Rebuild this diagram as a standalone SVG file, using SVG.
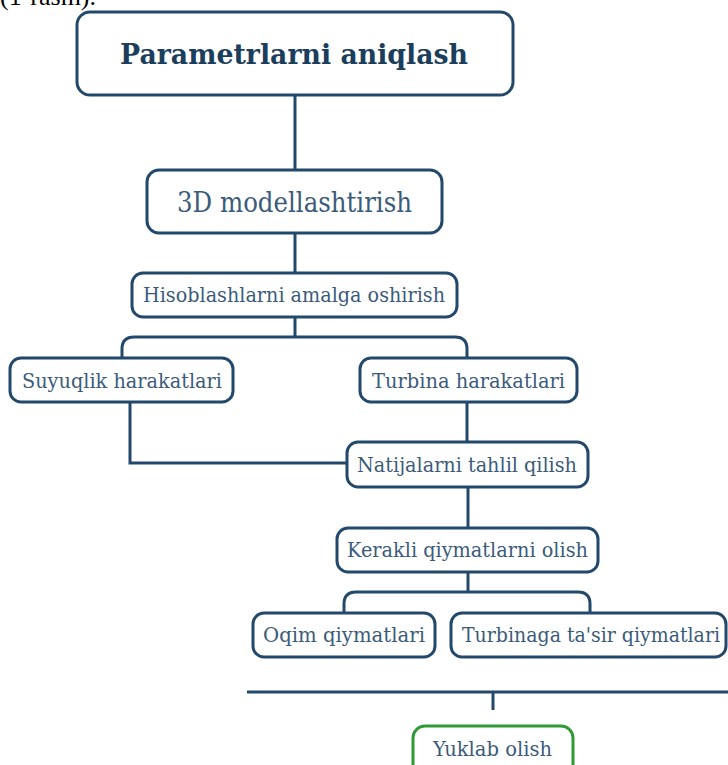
<svg xmlns="http://www.w3.org/2000/svg" width="728" height="765" viewBox="0 0 728 765">
<style>
.box{fill:#ffffff;stroke:#22496b;stroke-width:3}
.green{fill:#ffffff;stroke:#2f9a35;stroke-width:3}
.t{font-family:"DejaVu Serif","Liberation Serif",serif;font-size:20px;fill:#3b5b7a;text-anchor:middle}
.title{font-family:"DejaVu Serif","Liberation Serif",serif;font-size:27px;font-weight:bold;fill:#1c3e5d;text-anchor:middle}
.c{fill:none;stroke:#22496b;stroke-width:3}
.cap{font-family:"Liberation Serif",serif;font-size:26px;fill:#000000}
</style>
<text class="cap" x="0" y="5">(1-rasm).</text>
<g id="connectors">
<path class="c" d="M295,95 V170"/>
<path class="c" d="M295,233 V273"/>
<path class="c" d="M295,317 V337"/>
<path class="c" d="M122,358 V349 Q122,337 134,337 H455 Q467,337 467,349 V358"/>
<path class="c" d="M130,402 V463 H347"/>
<path class="c" d="M467,402 V442"/>
<path class="c" d="M468,487 V528"/>
<path class="c" d="M468,572 V592"/>
<path class="c" d="M344,613 V604 Q344,592 356,592 H578 Q590,592 590,604 V613"/>
<path class="c" d="M247,692 H730"/>
<path class="c" d="M493,692 V710"/>
</g>
<g id="n-title">
<rect class="box" x="77" y="12" width="436" height="83" rx="13"/>
<text class="title" x="294" y="64" textLength="348" lengthAdjust="spacingAndGlyphs">Parametrlarni aniqlash</text>
</g>
<g id="n-3d">
<rect class="box" x="147" y="170" width="295" height="63" rx="12"/>
<text class="t" x="294.5" y="212" style="font-size:27px" textLength="235" lengthAdjust="spacingAndGlyphs">3D modellashtirish</text>
</g>
<g id="n-hisob">
<rect class="box" x="132" y="273" width="325" height="44" rx="11"/>
<text class="t" x="294" y="302" textLength="302" lengthAdjust="spacingAndGlyphs">Hisoblashlarni amalga oshirish</text>
</g>
<g id="n-suyuqlik">
<rect class="box" x="10" y="358" width="223" height="44" rx="11"/>
<text class="t" x="122" y="388" textLength="200" lengthAdjust="spacingAndGlyphs">Suyuqlik harakatlari</text>
</g>
<g id="n-turbina">
<rect class="box" x="360" y="358" width="217" height="44" rx="11"/>
<text class="t" x="468.5" y="388" textLength="193" lengthAdjust="spacingAndGlyphs">Turbina harakatlari</text>
</g>
<g id="n-natija">
<rect class="box" x="347" y="442" width="241" height="45" rx="11"/>
<text class="t" x="467" y="472" textLength="220" lengthAdjust="spacingAndGlyphs">Natijalarni tahlil qilish</text>
</g>
<g id="n-kerakli">
<rect class="box" x="337" y="528" width="261" height="44" rx="11"/>
<text class="t" x="467.5" y="557" textLength="241" lengthAdjust="spacingAndGlyphs">Kerakli qiymatlarni olish</text>
</g>
<g id="n-oqim">
<rect class="box" x="253" y="613" width="182" height="44" rx="11"/>
<text class="t" x="344" y="642" textLength="162" lengthAdjust="spacingAndGlyphs">Oqim qiymatlari</text>
</g>
<g id="n-turbinaga">
<rect class="box" x="451" y="613" width="275" height="44" rx="11"/>
<text class="t" x="591" y="642" textLength="258" lengthAdjust="spacingAndGlyphs">Turbinaga ta'sir qiymatlari</text>
</g>
<g id="n-yuklab">
<rect class="green" x="413" y="726" width="160" height="70" rx="12"/>
<text class="t" x="492.5" y="756" textLength="119" lengthAdjust="spacingAndGlyphs">Yuklab olish</text>
</g>
</svg>
